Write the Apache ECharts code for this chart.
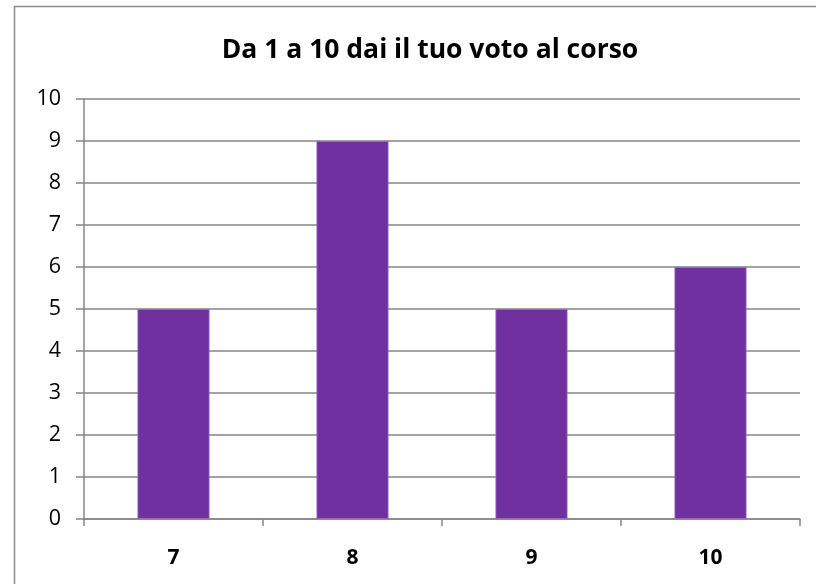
<!DOCTYPE html>
<html><head><meta charset="utf-8">
<script src="https://cdn.jsdelivr.net/npm/echarts@6/dist/echarts.min.js"></script>
<style>html,body{margin:0;padding:0;background:#fff}#c{width:816px;height:584px}</style>
</head><body><div id="c"></div>
<script>
const titleText = 'Da 1 a 10 dai il tuo voto al corso';
const categories = ['7', '8', '9', '10'];
const values = [5, 9, 5, 6];
const yTicks = [0, 10, 1];
const chart = echarts.init(document.getElementById('c'), null, {renderer: 'canvas'});
const fam = '"Open Sans", "Liberation Sans", sans-serif';
chart.setOption({
  animation: false,
  backgroundColor: '#fff',
  title: {text: titleText, left: 425, top: 32, textAlign: 'center',
    textStyle: {fontFamily: fam, fontWeight: 'bold', fontSize: 26.5, color: '#000'}},
  graphic: [{type: 'rect', shape: {x: 14.5, y: 6.5, width: 830, height: 620},
    style: {fill: 'none', stroke: '#8c8c8c', lineWidth: 1.5}, silent: true}],
  grid: {left: 84, right: 16, top: 99, bottom: 65},
  xAxis: {type: 'category', data: categories,
    axisLine: {lineStyle: {color: '#868686', width: 1.5}},
    axisTick: {show: true, length: 7, lineStyle: {color: '#868686', width: 1.5}},
    axisLabel: {fontFamily: fam, fontWeight: 'bold', fontSize: 21, color: '#000', margin: 29}},
  yAxis: {type: 'value', min: yTicks[0], max: yTicks[1], interval: yTicks[2],
    axisLine: {show: true, lineStyle: {color: '#868686', width: 1.5}},
    axisTick: {show: true, length: 8, lineStyle: {color: '#868686', width: 1.5}},
    splitLine: {lineStyle: {color: '#868686', width: 1.5}},
    axisLabel: {fontFamily: fam, fontSize: 21.5, color: '#000', margin: 23}},
  series: [{type: 'bar', data: values, barWidth: 72,
    itemStyle: {color: '#7030A0', borderColor: '#9a6cc0', borderWidth: 0.8}}]
});
</script></body></html>
